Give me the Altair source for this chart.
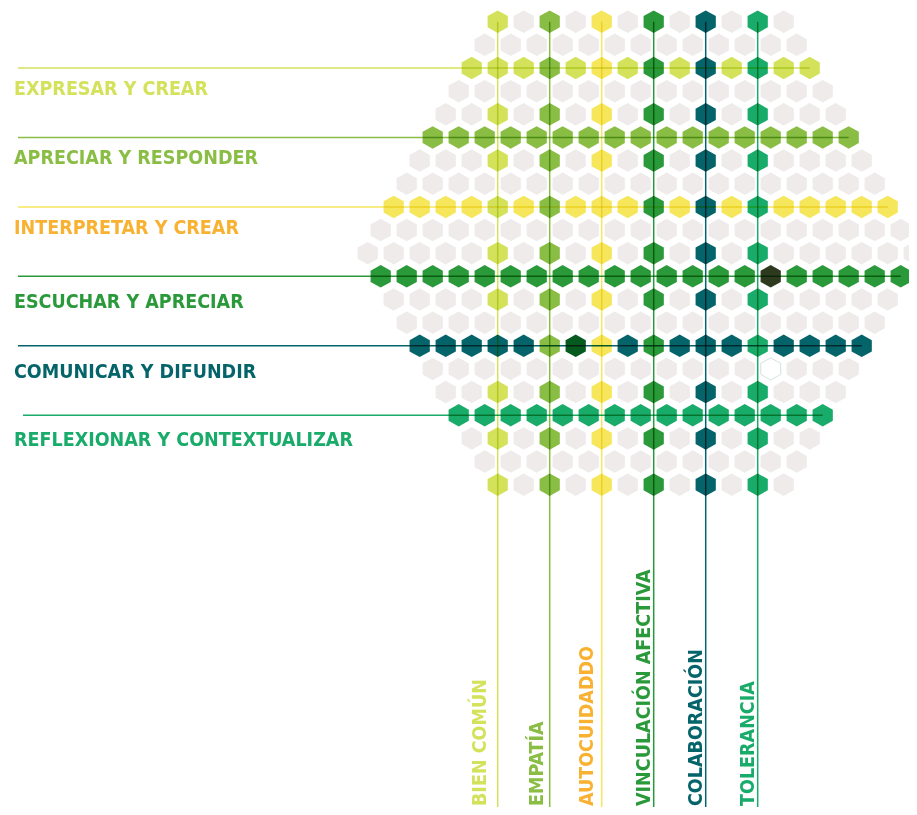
import altair as alt
import pandas as pd

# ---------------- data ----------------
ROW_LABELS = ["EXPRESAR Y CREAR", "APRECIAR Y RESPONDER", "INTERPRETAR Y CREAR",
              "ESCUCHAR Y APRECIAR", "COMUNICAR Y DIFUNDIR", "REFLEXIONAR Y CONTEXTUALIZAR"]
ROW_INDEX = [2, 5, 8, 11, 14, 17]
ROW_HEX_COLORS = ["#d4e25b", "#8abd44", "#f6e65b", "#2a993a", "#04646a", "#19ab6a"]
ROW_TEXT_COLORS = ["#d4e25b", "#8abd44", "#f9b132", "#2a993a", "#04646a", "#19ab6a"]

COL_LABELS = ["BIEN COMÚN", "EMPATÍA", "AUTOCUIDADDO", "VINCULACIÓN AFECTIVA",
              "COLABORACIÓN", "TOLERANCIA"]
COL_INDEX = [0, 4, 8, 12, 16, 20]
COL_HEX_COLORS = ["#d4e25b", "#8abd44", "#f6e65b", "#2a993a", "#04646a", "#19ab6a"]
COL_TEXT_COLORS = ["#d4e25b", "#8abd44", "#f9b132", "#2a993a", "#04646a", "#19ab6a"]

N_ROWS = 21          # rows of the hexagonal honeycomb
BASE_COUNT = 12      # cells in the top / bottom row
GRAY = "#eeebea"

# cells that differ from the regular pattern: (row, column index, colour)
SPECIAL_ROWS = [11, 14, 14]
SPECIAL_COLS = [21, 6, 0]
SPECIAL_COLORS = ["#2d3a1e", "#06591f", "#04646a"]
OUTLINED_ROWS = [15]
OUTLINED_COLS = [21]

# ---------------- layout (pixels) ----------------
W, H = 901, 799
X0, DX = 497.7, 13.0      # page x of column index 0, px per column index
Y0, DY = 21.7, 23.15      # page y of row 0, px per row
def kx(px):
    return (px - X0) / DX
def ry(py):
    return (py - Y0) / DY

XDOM = [kx(8), kx(8 + W)]
YDOM = [ry(8), ry(8 + H)]
ROW_LINE_START = [18, 18, 18, 18, 18, 23]
ROW_LABEL_X = 14
ROW_LABEL_BASE = [27, 27, 27, 31.5, 32, 31]
COL_LABEL_GAP = [11.5, 6.5, 8.3, 3.7, 4, 3.7]
COL_LABEL_BOTTOM = 806

# ---------------- build tables ----------------
cells = []
for r in range(N_ROWS):
    m = min(r, N_ROWS - 1 - r)
    for k in range(-m, 2 * (BASE_COUNT - 1) + m + 1, 2):
        color = GRAY
        if r in ROW_INDEX:
            color = ROW_HEX_COLORS[ROW_INDEX.index(r)]
        if k in COL_INDEX:
            color = COL_HEX_COLORS[COL_INDEX.index(k)]
        for sr, sk, sc in zip(SPECIAL_ROWS, SPECIAL_COLS, SPECIAL_COLORS):
            if sr == r and sk == k:
                color = sc
        for orow, ocol in zip(OUTLINED_ROWS, OUTLINED_COLS):
            if orow == r and ocol == k:
                color = None
        if color is not None:
            cells.append({"k": k, "r": r, "c": color})
cells = pd.DataFrame(cells)
outlined = pd.DataFrame({"k": OUTLINED_COLS, "r": OUTLINED_ROWS})

row_lines = pd.DataFrame({
    "x": [kx(p) for p in ROW_LINE_START],
    "x2": [2 * (BASE_COUNT - 1) + min(r, N_ROWS - 1 - r) for r in ROW_INDEX],
    "r": ROW_INDEX,
    "c": ROW_HEX_COLORS,
})
col_lines = pd.DataFrame({
    "k": COL_INDEX,
    "y": [0] * len(COL_INDEX),
    "y2": [ry(820)] * len(COL_INDEX),
    "c": COL_HEX_COLORS,
})
row_text = pd.DataFrame({
    "label": ROW_LABELS,
    "x": [kx(ROW_LABEL_X)] * len(ROW_LABELS),
    "y": [r + b / DY for r, b in zip(ROW_INDEX, ROW_LABEL_BASE)],
    "c": ROW_TEXT_COLORS,
})
col_text = pd.DataFrame({
    "label": COL_LABELS,
    "x": [k - g / DX for k, g in zip(COL_INDEX, COL_LABEL_GAP)],
    "y": [ry(COL_LABEL_BOTTOM)] * len(COL_LABELS),
    "c": COL_TEXT_COLORS,
})

HEX = "M0,-1L0.9,-0.5L0.9,0.5L0,1L-0.9,0.5L-0.9,-0.5Z"
xs = alt.Scale(domain=XDOM, nice=False, zero=False)
ys = alt.Scale(domain=YDOM, nice=False, zero=False, reverse=True)
X = lambda f: alt.X(f, type="quantitative", scale=xs, axis=None)
Y = lambda f: alt.Y(f, type="quantitative", scale=ys, axis=None)
FONT = "'DejaVu Sans Condensed', 'Liberation Sans', sans-serif"
FS = 19.5

hexes = alt.Chart(cells).mark_point(
    shape=HEX, filled=True, size=506, opacity=1, strokeWidth=0
).encode(x=X("k"), y=Y("r"), color=alt.Color("c:N", scale=None))

hex_out = alt.Chart(outlined).mark_point(
    shape=HEX, filled=False, size=490, opacity=1, stroke="#c6dad9", strokeWidth=0.8,
    fill="#ffffff", fillOpacity=1
).encode(x=X("k"), y=Y("r"))

hlines = alt.Chart(row_lines).mark_rule(strokeWidth=1.5, blend="multiply").encode(
    x=X("x"), x2="x2", y=Y("r"), color=alt.Color("c:N", scale=None))

vlines = alt.Chart(col_lines).mark_rule(strokeWidth=1.5, blend="multiply").encode(
    x=X("k"), y=Y("y"), y2="y2", color=alt.Color("c:N", scale=None))

rtext = alt.Chart(row_text).mark_text(
    font=FONT, fontSize=FS, fontWeight="bold", align="left", baseline="alphabetic"
).encode(x=X("x"), y=Y("y"), text="label:N", color=alt.Color("c:N", scale=None))

ctext = alt.Chart(col_text).mark_text(
    font=FONT, fontSize=FS, fontWeight="bold", align="left", baseline="alphabetic",
    angle=270
).encode(x=X("x"), y=Y("y"), text="label:N", color=alt.Color("c:N", scale=None))

chart = alt.layer(hexes, hex_out, hlines, vlines, rtext, ctext).properties(
    width=W, height=H, padding=0,
    autosize=alt.AutoSizeParams(type="none"),
).configure_view(stroke=None)

chart.save("out.html", embed_options={"renderer": "svg", "actions": False})
